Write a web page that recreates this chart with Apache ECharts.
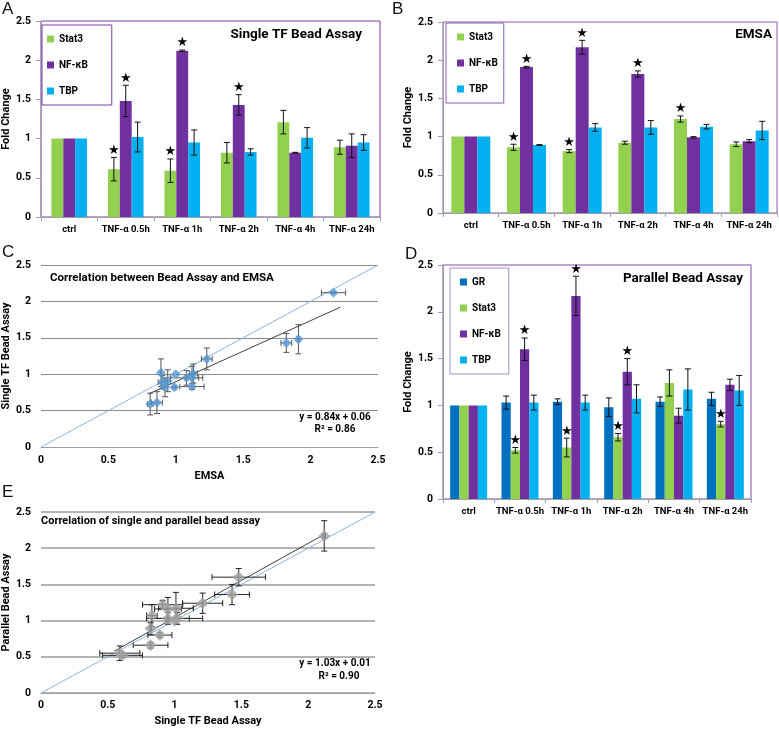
<!DOCTYPE html>
<html>
<head>
<meta charset="utf-8">
<script src="https://cdn.jsdelivr.net/npm/echarts@6/dist/echarts.min.js"></script>
<style>
  html, body { margin: 0; padding: 0; background: #fff; }
  #chart { width: 779px; height: 729px; }
</style>
</head>
<body>
<div id="chart"></div>
<script>
// categories shared by the bar panels
const categories = ['ctrl', 'TNF-α 0.5h', 'TNF-α 1h', 'TNF-α 2h', 'TNF-α 4h', 'TNF-α 24h']

// A: single TF bead assay (value, error, star)
const singleStat3 = [1.00, 0.61, 0.59, 0.82, 1.21, 0.89]
const singleStat3Err = [0, 0.15, 0.15, 0.13, 0.15, 0.09]
const singleStat3Star = [0, 1, 1, 0, 0, 0]
const singleNfkb = [1.00, 1.48, 2.12, 1.43, 0.82, 0.91]
const singleNfkbErr = [0, 0.20, 0.01, 0.13, 0.005, 0.15]
const singleNfkbStar = [0, 1, 1, 1, 0, 0]
const singleTbp = [1.00, 1.02, 0.95, 0.83, 1.01, 0.95]
const singleTbpErr = [0, 0.19, 0.16, 0.04, 0.13, 0.10]
const singleTbpStar = [0, 0, 0, 0, 0, 0]

// B: EMSA
const emsaStat3 = [1.00, 0.86, 0.81, 0.92, 1.23, 0.90]
const emsaStat3Err = [0, 0.04, 0.02, 0.02, 0.04, 0.03]
const emsaStat3Star = [0, 1, 1, 0, 1, 0]
const emsaNfkb = [1.00, 1.91, 2.17, 1.82, 0.99, 0.94]
const emsaNfkbErr = [0, 0.01, 0.09, 0.04, 0.01, 0.02]
const emsaNfkbStar = [0, 1, 1, 1, 0, 0]
const emsaTbp = [1.00, 0.89, 1.12, 1.12, 1.13, 1.08]
const emsaTbpErr = [0, 0.005, 0.05, 0.09, 0.03, 0.12]
const emsaTbpStar = [0, 0, 0, 0, 0, 0]

// D: parallel bead assay
const parGr = [1.00, 1.03, 1.04, 0.98, 1.04, 1.07]
const parGrErr = [0, 0.07, 0.03, 0.10, 0.05, 0.07]
const parGrStar = [0, 0, 0, 0, 0, 0]
const parStat3 = [1.00, 0.52, 0.55, 0.66, 1.24, 0.80]
const parStat3Err = [0, 0.03, 0.10, 0.04, 0.14, 0.03]
const parStat3Star = [0, 1, 1, 1, 0, 1]
const parNfkb = [1.00, 1.60, 2.17, 1.36, 0.89, 1.22]
const parNfkbErr = [0, 0.12, 0.21, 0.14, 0.08, 0.06]
const parNfkbStar = [0, 1, 1, 1, 0, 0]
const parTbp = [1.00, 1.03, 1.03, 1.07, 1.17, 1.16]
const parTbpErr = [0, 0.08, 0.08, 0.15, 0.22, 0.16]
const parTbpStar = [0, 0, 0, 0, 0, 0]

// C / E trend lines
const identityLine = [[0, 0], [2.5, 2.5]]
const trendC = [[0.80, 0.73], [2.22, 1.92]]
const trendE = [[0.55, 0.58], [2.12, 2.19]]

const FONT = 'Roboto'
const COL = { GR: '#0070C0', Stat3: '#92D050', NF: '#7030A0', TBP: '#00B0F0' }

// zip two measurements into scatter points [x, y, xErr, yErr]
function pairs (xs, xe, ys, ye) {
  return xs.map((v, i) => [v, ys[i], xe[i], ye[i]])
}

// bar + error bar / star series for one bar panel
function barSeries (gi, list, gap) {
  const out = []
  list.forEach((s, idx) => {
    out.push({
      type: 'bar', name: s.name, xAxisIndex: gi, yAxisIndex: gi,
      data: s.values, barGap: '0%', barCategoryGap: gap,
      itemStyle: { color: s.color }
    })
    out.push({
      type: 'custom', xAxisIndex: gi, yAxisIndex: gi, z: 5,
      encode: { x: 0, y: 1 },
      data: s.values.map((v, i) => [i, v, s.errs[i], s.stars[i]]),
      renderItem (params, api) {
        const cat = api.value(0)
        const val = api.value(1)
        const err = api.value(2)
        const lay = api.barLayout({ barGap: '0%', barCategoryGap: gap, count: list.length })[idx]
        const top = api.coord([cat, val + err])
        const bot = api.coord([cat, val - err])
        const x = top[0] + lay.offsetCenter
        const ls = { stroke: '#111', lineWidth: 1 }
        const children = []
        if (err > 0) {
          children.push({ type: 'line', shape: { x1: x, y1: top[1], x2: x, y2: bot[1] }, style: ls })
          children.push({ type: 'line', shape: { x1: x - 3, y1: top[1], x2: x + 3, y2: top[1] }, style: ls })
          children.push({ type: 'line', shape: { x1: x - 3, y1: bot[1], x2: x + 3, y2: bot[1] }, style: ls })
        }
        if (api.value(3)) {
          children.push({
            type: 'text',
            style: { text: '★', x: x, y: top[1] - 7, align: 'center', verticalAlign: 'middle', font: '13px "DejaVu Sans"', fill: '#000' }
          })
        }
        return { type: 'group', children }
      }
    })
  })
  return out
}

// scatter with x / y error bars for a correlation panel
function scatterSeries (gi, points, color, size, errColor, trend) {
  return [
    {
      type: 'line', xAxisIndex: gi, yAxisIndex: gi, data: identityLine, showSymbol: false,
      lineStyle: { color: '#8db3e2', width: 1 }, z: 1
    },
    {
      type: 'line', xAxisIndex: gi, yAxisIndex: gi, data: trend, showSymbol: false,
      lineStyle: { color: '#404040', width: 1 }, z: 1
    },
    {
      type: 'custom', xAxisIndex: gi, yAxisIndex: gi, z: 3,
      encode: { x: 0, y: 1 },
      data: points,
      renderItem (params, api) {
        const x = api.value(0), y = api.value(1), xe = api.value(2), ye = api.value(3)
        const ls = { stroke: errColor, lineWidth: 1 }
        const children = []
        if (xe > 0) {
          const l = api.coord([x - xe, y]), r = api.coord([x + xe, y])
          children.push({ type: 'line', shape: { x1: l[0], y1: l[1], x2: r[0], y2: r[1] }, style: ls })
          children.push({ type: 'line', shape: { x1: l[0], y1: l[1] - 3, x2: l[0], y2: l[1] + 3 }, style: ls })
          children.push({ type: 'line', shape: { x1: r[0], y1: r[1] - 3, x2: r[0], y2: r[1] + 3 }, style: ls })
        }
        if (ye > 0) {
          const t = api.coord([x, y + ye]), b = api.coord([x, y - ye])
          children.push({ type: 'line', shape: { x1: t[0], y1: t[1], x2: b[0], y2: b[1] }, style: ls })
          children.push({ type: 'line', shape: { x1: t[0] - 3, y1: t[1], x2: t[0] + 3, y2: t[1] }, style: ls })
          children.push({ type: 'line', shape: { x1: b[0] - 3, y1: b[1], x2: b[0] + 3, y2: b[1] }, style: ls })
        }
        return { type: 'group', children }
      }
    },
    {
      type: 'scatter', xAxisIndex: gi, yAxisIndex: gi, data: points.map(p => [p[0], p[1]]),
      symbol: 'diamond', symbolSize: size, itemStyle: { color: color }, z: 4
    }
  ]
}

const labelStyle = { fontFamily: FONT, fontWeight: 'bold', fontSize: 10.5, color: '#000' }
const axisGray = { color: '#a0a0a0', width: 1 }

function catAxis (gi) {
  return {
    gridIndex: gi, type: 'category', data: categories,
    axisLine: { lineStyle: axisGray },
    axisTick: { show: true, length: 4, lineStyle: axisGray },
    axisLabel: { fontFamily: FONT, fontWeight: 'bold', fontSize: 9.5, color: '#000', margin: 8, interval: 0 }
  }
}

function valAxis (gi, opts) {
  return Object.assign({
    gridIndex: gi, type: 'value', min: 0, max: 2.5, interval: 0.5,
    nameLocation: 'middle',
    nameTextStyle: { fontFamily: FONT, fontWeight: 'bold', fontSize: 11, color: '#000' },
    axisLabel: Object.assign({ margin: 10 }, labelStyle),
    splitLine: { show: false }
  }, opts)
}

function barYAxis (gi) {
  return valAxis(gi, {
    name: 'Fold Change', nameGap: 27,
    axisLine: { show: true, lineStyle: axisGray },
    axisTick: { show: true, length: 5, lineStyle: axisGray }
  })
}

const grids = [
  { left: 37, top: 21, width: 343, height: 196 },
  { left: 443, top: 22, width: 334, height: 191 },
  { left: 37, top: 265, width: 341, height: 182 },
  { left: 443, top: 265, width: 308, height: 234 },
  { left: 37, top: 512, width: 338, height: 181 }
]
grids[0] = Object.assign(grids[0], { show: true, borderColor: '#7a3ea8', borderWidth: 1 })
grids[1] = Object.assign(grids[1], { show: true, borderColor: '#8a5cb5', borderWidth: 1 })
grids[3] = Object.assign(grids[3], { show: true, borderColor: '#a68bc9', borderWidth: 1.5 })

function legendBox (left, top, names, border, padding) {
  return {
    data: names, orient: 'vertical', left, top, padding,
    icon: 'rect', itemWidth: 7, itemHeight: 7, itemGap: 14,
    borderColor: border, borderWidth: 1, backgroundColor: '#fff',
    textStyle: { fontFamily: FONT, fontWeight: 'bold', fontSize: 10, color: '#000', lineHeight: 12 },
    selectedMode: false
  }
}

function panelTitle (text, pos, size) {
  return Object.assign({
    text, padding: 0,
    textStyle: { fontFamily: FONT, fontWeight: 'bold', fontSize: size, color: '#000' }
  }, pos)
}

function letter (text, left, top) {
  return {
    text, left, top, padding: 0,
    textStyle: { fontFamily: 'Liberation Sans', fontWeight: 'normal', fontSize: 17, color: '#111' }
  }
}

const option = {
  animation: false,
  backgroundColor: '#fff',
  title: [
    letter('A', 2, 1), letter('B', 392, 1), letter('C', 2, 244), letter('D', 405, 246), letter('E', 2, 484),
    panelTitle('Single TF Bead Assay', { right: 417, top: 28 }, 13.5),
    panelTitle('EMSA', { right: 7, top: 28 }, 13.5),
    panelTitle('Parallel Bead Assay', { right: 36, top: 272 }, 13.5),
    panelTitle('Correlation between Bead Assay and EMSA', { left: 50, top: 272 }, 11.5),
    panelTitle('Correlation of single and parallel bead assay', { left: 41, top: 516 }, 11)
  ],
  legend: [
    legendBox(42, 25, ['Stat3', 'NF-κB', 'TBP'], '#7a3ea8', [8, 24, 8, 5]),
    legendBox(446, 23, ['Stat3', 'NF-κB', 'TBP'], '#8a5cb5', [8, 6, 8, 11]),
    legendBox(450, 268, ['GR', 'Stat3', 'NF-κB', 'TBP'], '#a68bc9', [8, 8, 8, 10])
  ],
  grid: grids,
  xAxis: [
    catAxis(0),
    catAxis(1),
    valAxis(2, {
      name: 'EMSA', nameGap: 24,
      axisLine: { show: true, lineStyle: axisGray }, axisTick: { show: false },
      axisLabel: Object.assign({ margin: 8 }, labelStyle)
    }),
    catAxis(3),
    valAxis(4, {
      name: 'Single TF Bead Assay', nameGap: 23,
      axisLine: { show: true, lineStyle: axisGray }, axisTick: { show: false },
      axisLabel: Object.assign({ margin: 7 }, labelStyle)
    })
  ],
  yAxis: [
    barYAxis(0),
    barYAxis(1),
    valAxis(2, {
      name: 'Single TF Bead Assay', nameGap: 27,
      axisLine: { show: false }, axisTick: { show: false },
      splitLine: { show: true, lineStyle: { color: '#8c8c8c', width: 1 } }
    }),
    barYAxis(3),
    valAxis(4, {
      name: 'Parallel Bead Assay', nameGap: 27,
      axisLine: { show: false }, axisTick: { show: false },
      splitLine: { show: true, lineStyle: { color: '#b4b4b4', width: 2 } }
    })
  ],
  graphic: [
    { type: 'text', style: { text: 'y = 0.84x + 0.06', x: 335, y: 417, align: 'center', verticalAlign: 'middle', font: 'bold 10px Roboto', fill: '#000' } },
    { type: 'text', style: { text: 'R² = 0.86', x: 335, y: 429, align: 'center', verticalAlign: 'middle', font: 'bold 10px Roboto', fill: '#000' } },
    { type: 'text', style: { text: 'y = 1.03x + 0.01', x: 335, y: 663, align: 'center', verticalAlign: 'middle', font: 'bold 10px Roboto', fill: '#000' } },
    { type: 'text', style: { text: 'R² = 0.90', x: 339, y: 676, align: 'center', verticalAlign: 'middle', font: 'bold 10px Roboto', fill: '#000' } }
  ],
  series: [].concat(
    barSeries(0, [
      { name: 'Stat3', values: singleStat3, errs: singleStat3Err, stars: singleStat3Star, color: COL.Stat3 },
      { name: 'NF-κB', values: singleNfkb, errs: singleNfkbErr, stars: singleNfkbStar, color: COL.NF },
      { name: 'TBP', values: singleTbp, errs: singleTbpErr, stars: singleTbpStar, color: COL.TBP }
    ], '37%'),
    barSeries(1, [
      { name: 'Stat3', values: emsaStat3, errs: emsaStat3Err, stars: emsaStat3Star, color: COL.Stat3 },
      { name: 'NF-κB', values: emsaNfkb, errs: emsaNfkbErr, stars: emsaNfkbStar, color: COL.NF },
      { name: 'TBP', values: emsaTbp, errs: emsaTbpErr, stars: emsaTbpStar, color: COL.TBP }
    ], '30%'),
    scatterSeries(2, pairs(
      emsaStat3.concat(emsaNfkb.slice(1), emsaTbp.slice(1)),
      emsaStat3Err.concat(emsaNfkbErr.slice(1), emsaTbpErr.slice(1)),
      singleStat3.concat(singleNfkb.slice(1), singleTbp.slice(1)),
      singleStat3Err.concat(singleNfkbErr.slice(1), singleTbpErr.slice(1))
    ), '#5b9bd5', 10, '#555', trendC),
    barSeries(3, [
      { name: 'GR', values: parGr, errs: parGrErr, stars: parGrStar, color: COL.GR },
      { name: 'Stat3', values: parStat3, errs: parStat3Err, stars: parStat3Star, color: COL.Stat3 },
      { name: 'NF-κB', values: parNfkb, errs: parNfkbErr, stars: parNfkbStar, color: COL.NF },
      { name: 'TBP', values: parTbp, errs: parTbpErr, stars: parTbpStar, color: COL.TBP }
    ], '28%'),
    scatterSeries(4, pairs(
      singleStat3.concat(singleNfkb.slice(1), singleTbp.slice(1)),
      singleStat3Err.concat(singleNfkbErr.slice(1), singleTbpErr.slice(1)),
      parStat3.concat(parNfkb.slice(1), parTbp.slice(1)),
      parStat3Err.concat(parNfkbErr.slice(1), parTbpErr.slice(1))
    ), '#a3a3a3', 12, '#222', trendE)
  )
}

const chart = echarts.init(document.getElementById('chart'))
chart.setOption(option)
</script>
</body>
</html>
